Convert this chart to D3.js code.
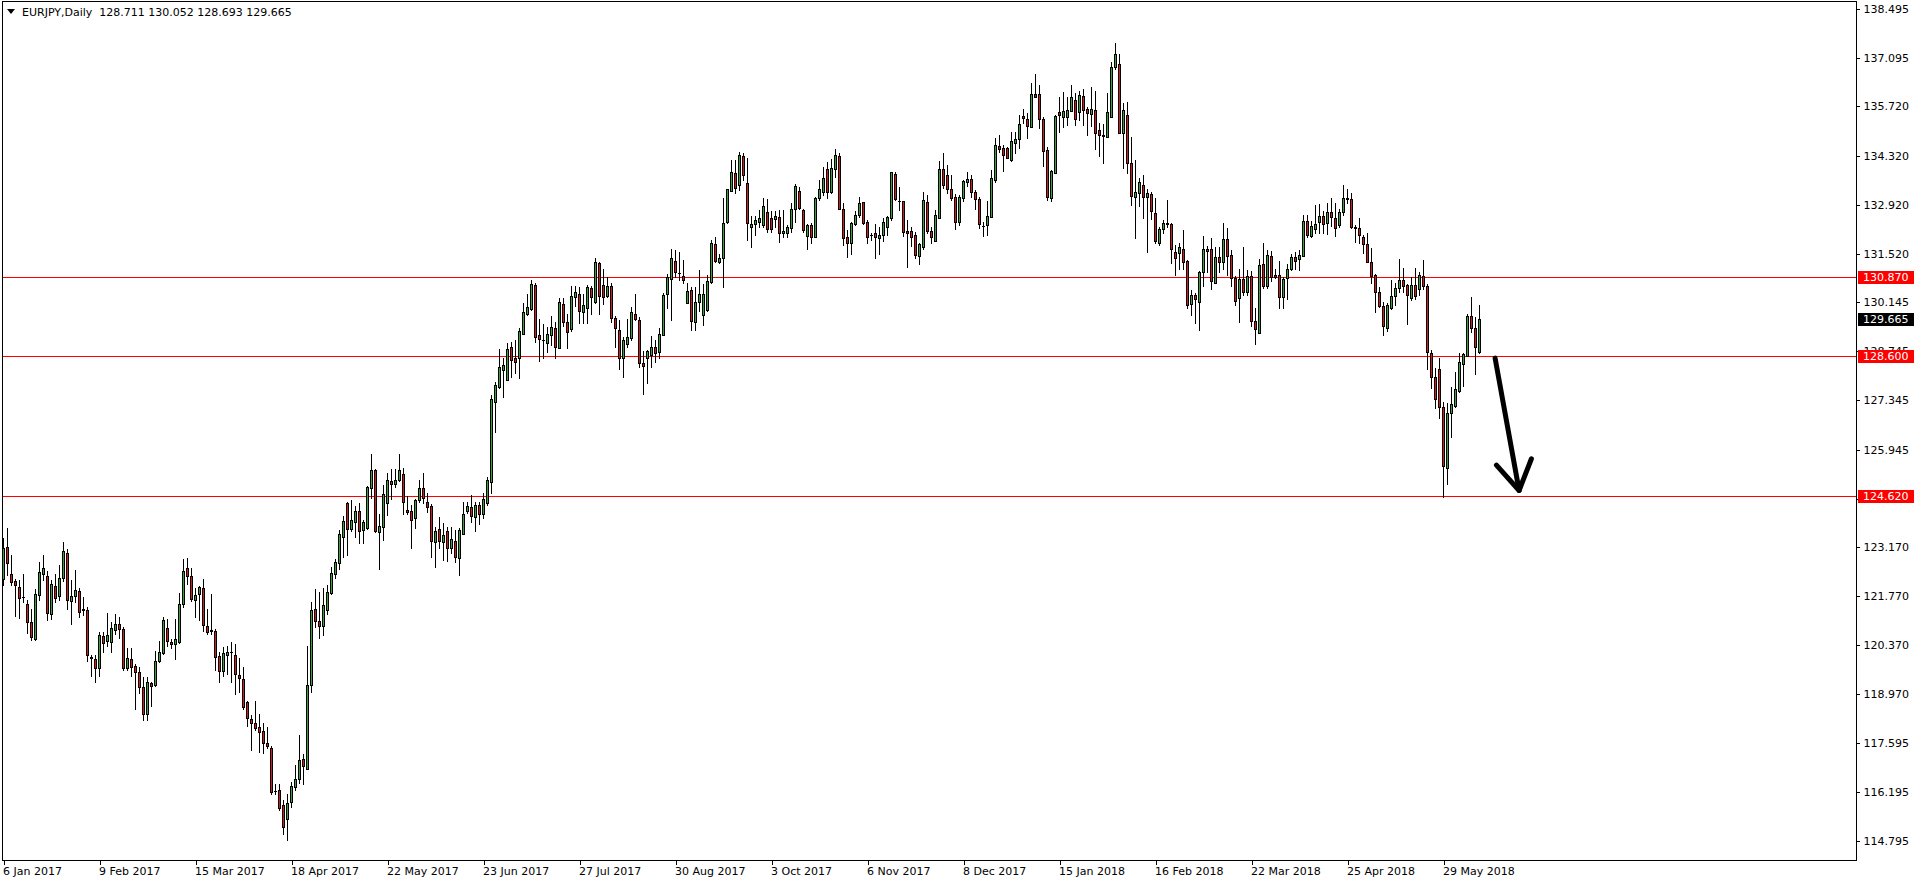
<!DOCTYPE html>
<html>
<head>
<meta charset="utf-8">
<script src="https://cdn.jsdelivr.net/npm/d3@7"></script>
<style>
  html, body { margin: 0; padding: 0; background: #ffffff; }
  svg { display: block; }
  text { font-family: "DejaVu Sans", "Liberation Sans", sans-serif; font-size: 11px; fill: #000; }
</style>
</head>
<body>
<svg id="chart" width="1916" height="884"></svg>
<script>
// ---------------- DATA ----------------
const symbolTitle = "EURJPY,Daily  128.711 130.052 128.693 129.665";

const open = [
122.27,123.18,122.41,122.20,122.04,121.75,121.56,121.02,120.55,121.79,
122.41,122.34,121.27,122.05,121.78,122.29,123.01,121.64,121.78,121.91,
121.39,121.37,120.03,119.97,119.71,120.63,120.49,120.47,120.81,120.97,
120.83,119.71,119.99,119.77,119.62,119.17,118.40,119.29,119.23,119.93,
120.14,120.87,120.45,120.42,120.47,121.56,122.58,122.33,121.67,121.82,
122.01,120.93,120.80,120.77,120.06,119.64,120.08,120.18,120.10,119.52,
119.42,118.75,118.28,118.17,118.04,117.92,117.58,117.43,116.22,116.24,
115.81,115.41,115.91,116.32,116.57,117.12,116.86,119.25,121.39,121.06,
120.92,121.37,121.86,122.40,122.70,123.46,124.41,123.67,123.89,124.19,
123.65,123.72,124.86,125.36,123.60,123.74,124.43,125.05,124.96,125.07,
125.26,124.22,124.19,124.00,124.50,124.84,124.44,124.33,123.32,123.68,
123.30,123.62,123.15,123.34,122.87,123.55,124.20,124.30,124.03,124.38,
124.12,124.41,125.03,127.29,127.73,128.21,127.94,128.88,128.54,128.54,
129.25,129.82,129.94,130.62,129.20,129.07,128.97,129.22,129.42,128.85,
130.09,129.57,129.37,130.30,130.39,129.85,129.99,130.55,130.16,131.25,
130.62,130.33,130.60,129.68,129.35,128.54,128.94,129.11,129.80,129.65,
128.42,128.54,128.64,128.86,128.73,129.22,130.39,130.79,131.31,130.98,
130.89,130.13,130.49,129.58,130.15,129.78,129.92,130.72,131.79,131.29,
131.39,132.42,133.32,133.81,133.48,134.30,133.53,132.29,132.36,132.42,
132.34,132.70,132.53,132.50,132.56,132.10,132.10,132.25,132.79,133.32,
132.77,132.03,132.34,132.01,133.10,133.29,133.95,133.27,133.95,134.31,
132.81,131.99,131.82,132.36,132.64,132.99,132.42,132.07,132.10,131.96,
132.07,132.29,132.53,133.79,133.03,133.02,132.17,132.17,132.05,131.47,
131.72,133.00,132.17,131.89,132.53,133.95,133.76,133.36,133.13,132.42,
133.12,133.57,133.64,133.27,133.07,132.32,132.34,132.58,133.62,134.59,
134.54,134.54,134.19,134.67,134.78,135.45,135.35,135.14,136.06,136.06,
135.35,134.48,133.12,133.83,135.57,135.43,135.41,135.60,135.90,135.57,
136.02,135.64,135.49,135.62,135.05,134.90,134.86,135.43,136.83,136.93,
134.97,135.47,134.12,133.15,133.26,133.48,133.15,133.22,132.67,131.84,
132.22,132.39,132.37,131.56,131.55,131.67,131.31,130.09,130.34,130.14,
130.99,131.67,131.65,130.70,131.44,131.28,131.93,131.49,130.84,130.25,
130.80,130.42,130.89,129.61,129.27,131.22,130.61,131.46,130.92,130.93,
130.28,130.82,131.10,131.42,131.36,131.47,132.45,132.04,132.24,132.43,
132.60,132.39,132.70,132.53,132.34,132.70,133.10,133.08,132.28,132.25,
131.99,131.79,131.28,130.92,130.44,130.03,129.42,129.99,130.33,130.55,
130.77,130.63,130.27,130.63,130.51,130.89,130.60,128.71,128.02,128.24,
127.15,125.43,127.00,127.19,127.62,128.37,128.62,129.75,129.42,128.711
];

const high = [
123.44,123.70,122.94,122.25,122.22,122.41,121.65,121.40,121.96,122.74,
122.94,122.49,122.22,122.41,122.65,123.30,123.12,122.24,122.51,121.99,
121.75,121.46,120.09,120.08,120.75,120.75,121.30,121.04,121.27,121.18,
120.89,120.30,120.30,119.85,119.75,119.47,119.47,119.33,120.20,120.49,
121.18,121.13,120.54,121.11,121.87,122.82,122.87,122.56,121.99,122.05,
122.25,121.40,121.82,120.83,120.18,120.33,120.35,120.47,120.42,120.01,
119.76,118.78,118.38,118.78,118.41,118.16,118.05,117.49,116.41,116.43,
115.97,116.14,116.48,116.95,117.81,117.28,120.35,121.60,121.97,121.89,
122.01,122.08,122.60,122.84,123.65,124.05,124.45,124.52,124.33,124.41,
123.94,124.90,125.82,125.38,124.10,124.93,125.29,125.39,125.39,125.82,
125.41,124.63,124.38,124.55,125.07,125.29,124.70,124.39,123.73,124.03,
123.86,123.75,123.73,123.65,123.70,124.46,124.46,124.65,124.46,124.46,
124.70,125.17,127.50,127.87,128.82,128.54,128.97,129.02,129.08,129.40,
130.11,130.39,130.77,130.68,129.66,129.52,129.44,129.75,129.59,130.25,
130.25,129.82,130.60,130.60,130.58,130.39,130.62,130.60,131.39,131.30,
131.10,130.87,130.70,129.75,129.65,129.16,129.66,130.01,130.39,129.73,
128.76,128.78,129.18,129.06,129.40,130.41,130.96,131.67,131.63,131.58,
131.34,130.70,130.58,130.58,131.07,130.66,130.91,131.91,132.01,131.53,
133.10,133.38,134.19,134.19,134.43,134.40,134.24,132.60,132.60,132.77,
133.10,133.07,132.74,132.74,132.77,132.77,132.34,132.96,133.51,133.43,
132.81,132.37,132.39,133.15,133.62,134.00,134.14,134.22,134.51,134.38,
132.96,132.20,132.43,132.74,133.15,133.00,132.48,132.12,132.36,132.29,
132.53,132.60,133.86,133.84,133.43,133.03,132.48,132.29,132.15,131.82,
133.27,133.19,132.29,132.77,134.17,134.38,134.05,133.76,133.22,133.19,
133.62,133.86,133.78,133.34,133.15,132.43,133.03,133.92,134.81,134.90,
134.62,134.57,135.00,134.98,135.47,135.64,135.52,136.40,136.64,136.33,
135.43,134.55,133.91,135.47,136.00,136.12,136.00,136.33,136.09,136.16,
136.23,135.71,136.28,136.16,135.26,135.21,136.09,136.99,137.52,137.21,
135.83,135.85,134.84,134.19,133.69,133.78,133.38,133.27,133.10,132.29,
132.48,133.05,132.41,131.77,131.82,132.20,131.34,130.49,130.41,131.04,
132.03,131.74,131.96,131.72,131.72,132.41,132.27,131.63,130.89,131.09,
131.72,131.06,131.03,129.97,131.36,131.84,131.63,131.60,131.08,131.31,
130.87,131.22,131.51,131.58,131.63,132.63,132.63,132.45,132.91,132.93,
132.74,132.98,133.10,132.98,132.79,133.48,133.38,133.24,132.34,132.53,
132.06,132.12,131.68,130.96,130.58,130.16,130.11,130.77,130.70,131.36,
131.13,130.66,130.87,131.12,131.01,131.34,130.66,128.78,128.28,128.54,
127.31,127.28,127.72,128.16,128.70,128.70,129.82,130.28,129.73,130.052
];

const low = [
122.08,122.37,122.08,121.21,121.16,121.59,120.73,120.52,120.53,121.65,
122.24,121.10,121.11,121.61,121.65,122.20,121.41,120.99,121.59,121.18,
121.23,119.93,119.50,119.31,119.50,120.18,120.35,120.18,120.70,120.57,
119.66,119.66,119.50,118.55,119.02,118.24,118.24,118.65,119.21,119.90,
120.12,120.35,120.28,119.99,120.44,121.47,122.13,121.64,121.18,121.10,
120.77,120.70,120.70,119.66,119.31,119.50,119.55,119.31,118.99,119.04,
118.55,118.08,117.40,117.95,117.34,117.29,117.45,116.14,116.13,115.67,
115.00,114.83,115.77,116.24,116.45,116.43,116.85,119.04,120.90,120.58,
120.66,121.26,121.83,122.30,122.54,122.89,122.94,123.62,123.46,123.29,
123.29,123.67,124.57,123.60,122.54,123.37,124.08,124.53,124.88,125.05,
124.12,124.12,123.15,123.72,124.46,124.41,124.17,122.89,122.61,123.15,
122.80,122.78,123.00,122.75,122.37,123.53,124.15,123.89,123.62,123.82,
124.00,124.36,124.71,126.45,127.71,127.43,127.92,128.02,128.14,127.99,
129.23,129.79,129.92,129.02,128.47,128.56,128.72,128.92,128.56,128.83,
129.47,128.85,129.33,130.03,129.54,129.56,129.54,129.82,130.11,129.82,
130.08,130.30,129.59,128.87,128.23,128.02,128.87,129.06,129.63,128.30,
127.54,127.83,128.30,128.45,128.54,129.20,129.97,129.63,130.87,130.77,
130.70,130.11,129.35,129.35,129.90,129.49,129.90,130.70,131.30,131.25,
130.58,132.39,133.32,133.24,133.34,133.62,131.91,131.72,132.05,132.29,
132.29,132.15,132.13,132.29,131.85,131.99,132.01,132.15,132.43,132.80,
132.15,131.65,131.84,131.99,133.05,133.19,133.10,133.24,133.70,132.80,
131.77,131.44,131.53,132.34,132.56,132.37,131.82,131.91,131.39,131.51,
131.88,132.05,132.48,133.05,132.77,132.03,131.15,131.74,131.39,131.22,
131.67,132.10,131.82,131.89,132.53,133.41,133.26,133.05,132.23,132.34,
133.03,133.45,133.15,132.79,132.27,132.03,132.05,132.56,133.57,134.43,
133.89,134.24,134.17,134.40,134.54,135.24,134.81,135.12,135.98,135.11,
134.03,133.05,133.03,133.81,134.99,135.14,135.19,135.59,135.19,135.33,
135.19,134.90,135.16,134.52,134.31,134.12,134.84,135.41,136.80,134.95,
133.97,133.81,132.91,131.98,132.89,132.53,131.58,132.51,131.82,131.77,
132.12,132.29,131.25,130.93,131.08,131.08,129.99,129.78,129.56,129.35,
130.60,131.01,130.51,130.68,131.01,131.08,130.91,130.61,130.06,129.59,
130.35,130.35,129.46,128.94,129.27,130.54,130.56,130.75,130.82,129.97,
129.99,130.22,131.06,131.09,131.06,131.46,132.01,132.01,132.10,132.10,
132.10,132.08,132.31,132.04,132.29,132.63,132.96,132.26,131.86,131.84,
131.55,131.28,130.70,129.87,130.01,129.22,129.32,129.94,130.06,130.42,
130.42,129.52,130.20,130.23,130.35,130.51,128.23,127.70,127.14,126.85,
124.60,124.96,126.31,127.17,127.59,127.75,128.61,129.30,128.11,128.693
];

const close = [
123.14,122.70,122.16,122.10,121.72,121.74,121.02,120.61,121.84,122.45,
122.58,121.29,122.13,121.72,122.30,123.07,121.67,121.76,121.94,121.32,
121.38,120.10,120.02,119.73,120.65,120.44,120.66,120.87,120.99,120.84,
119.73,120.02,119.76,119.62,119.17,118.40,119.31,119.21,119.93,120.19,
121.08,120.50,120.40,120.56,121.56,122.48,122.34,121.68,121.81,122.04,
120.96,120.75,120.79,120.04,119.65,120.16,120.19,120.19,119.54,119.44,
118.62,118.31,118.17,118.01,117.91,117.60,117.50,116.20,116.21,115.74,
115.18,115.89,116.36,116.57,117.11,116.93,119.25,121.37,121.07,120.92,
121.51,121.90,122.44,122.73,123.53,123.90,123.67,123.95,124.19,123.63,
123.87,124.87,125.36,123.63,123.76,124.67,125.07,124.97,125.07,125.36,
124.46,124.17,123.93,124.52,124.84,124.57,124.31,123.35,123.62,123.35,
123.51,123.15,123.39,122.89,123.65,124.10,124.33,124.06,124.38,124.12,
124.55,125.07,127.38,127.78,128.30,128.35,128.82,128.51,128.45,129.31,
129.85,130.00,130.66,129.14,129.10,129.06,129.25,129.45,128.87,130.14,
129.59,129.30,130.32,130.44,129.90,130.05,130.58,130.28,131.29,130.33,
130.28,130.60,129.68,129.42,128.54,129.06,129.16,129.85,129.66,128.42,
128.33,128.76,128.86,128.71,129.25,130.35,130.87,131.39,130.99,130.97,
130.77,130.46,129.61,130.16,130.39,130.37,130.74,131.82,131.32,131.39,
132.39,133.37,133.84,133.41,134.33,133.78,132.39,132.36,132.48,132.53,
132.88,132.24,132.23,132.60,132.10,132.17,132.29,132.79,133.45,132.83,
132.20,132.34,132.01,133.10,133.38,133.67,133.29,133.97,134.35,132.81,
131.96,131.82,132.39,132.64,132.96,132.39,131.99,132.06,132.01,132.07,
132.42,132.56,133.84,133.07,133.02,132.15,132.10,131.99,131.50,131.79,
133.05,132.18,132.01,132.63,133.95,133.48,133.36,133.12,132.43,133.13,
133.59,133.64,133.29,133.07,132.36,132.31,132.60,133.67,134.62,134.52,
134.35,134.26,134.73,134.79,135.21,135.40,135.17,136.06,136.00,135.35,
134.46,133.13,133.88,135.45,135.47,135.60,135.62,136.00,135.36,136.04,
135.62,135.52,135.64,134.97,134.92,134.89,135.55,136.83,137.21,134.97,
135.62,134.10,133.18,133.27,133.56,133.15,133.24,132.75,131.89,132.24,
132.41,132.38,131.65,131.39,131.72,131.28,130.06,130.34,130.22,130.99,
131.65,131.60,130.75,131.44,131.28,131.93,131.47,130.84,130.18,130.80,
130.42,130.89,129.60,129.37,131.20,130.61,131.49,130.87,130.85,130.28,
130.80,131.10,131.42,131.32,131.50,132.45,132.06,132.31,132.36,132.60,
132.36,132.70,132.56,132.25,132.70,133.10,133.07,132.29,132.27,132.07,
131.80,131.30,130.89,130.44,130.04,129.47,130.06,130.33,130.56,130.77,
130.61,130.36,130.63,130.33,130.93,130.61,128.73,128.02,127.38,127.16,
125.48,127.00,127.24,127.67,128.43,128.66,129.75,129.42,128.87,129.665
];

// trading calendar (weekdays, market closed on Christmas Day and New Year's Day)
const firstDay = new Date(2017, 0, 6);
const holidays = ["2017-12-25", "2018-01-01"];

const xTickLabels = ["6 Jan 2017","9 Feb 2017","15 Mar 2017","18 Apr 2017","22 May 2017","23 Jun 2017",
  "27 Jul 2017","30 Aug 2017","3 Oct 2017","6 Nov 2017","8 Dec 2017","15 Jan 2018","16 Feb 2018",
  "22 Mar 2018","25 Apr 2018","29 May 2018"];
const barsPerXTick = 24;

const yTickLabels = ["138.495","137.095","135.720","134.320","132.920","131.520","130.145","128.745",
  "127.345","125.945","124.545","123.170","121.770","120.370","118.970","117.595","116.195","114.795"];

const levelLines = [130.870, 128.600, 124.620];
const lastPrice = 129.665;

// annotation arrow (bar index, price)
const arrowFrom = {i: 372.9, p: 128.55};
const arrowTo   = {i: 378.9, p: 124.78};

// ---------------- BUILD ----------------
const fmt = d3.timeFormat("%Y-%m-%d");
const dates = [];
{
  let d = new Date(firstDay);
  while (dates.length < open.length) {
    const wd = d.getDay();
    if (wd !== 0 && wd !== 6 && !holidays.includes(fmt(d))) dates.push(new Date(d));
    d.setDate(d.getDate() + 1);
  }
}
const bars = open.map((o, i) => ({i, date: dates[i], o, h: high[i], l: low[i], c: close[i]}));

const W = 1916, H = 884;
const plot = {left: 2, top: 1, right: 1856, bottom: 860};

const svg = d3.select("#chart");

const x = d3.scaleLinear().domain([0, bars.length - 1]).range([3.5, 3.5 + 4 * (bars.length - 1)]);
const y = d3.scaleLinear().domain([114.795, 138.495]).range([841, 9]);

const bullColor = "#3aa23a";
const bearColor = "#d21c1c";

svg.append("defs").append("clipPath").attr("id", "plotClip")
  .append("rect").attr("x", plot.left + 1).attr("y", plot.top + 1)
  .attr("width", plot.right - plot.left - 1).attr("height", plot.bottom - plot.top - 1);

const g = svg.append("g").attr("clip-path", "url(#plotClip)");

// level lines
g.selectAll("line.level").data(levelLines).join("line")
  .attr("class", "level")
  .attr("x1", plot.left).attr("x2", plot.right)
  .attr("y1", d => Math.round(y(d)) + 0.5).attr("y2", d => Math.round(y(d)) + 0.5)
  .attr("stroke", "#ff0000").attr("stroke-width", 1).attr("shape-rendering", "crispEdges");

// candles
const cg = g.append("g");
const candle = cg.selectAll("g.candle").data(bars).join("g").attr("class", "candle");
candle.append("line")
  .attr("x1", d => x(d.i)).attr("x2", d => x(d.i))
  .attr("y1", d => Math.round(y(d.h))).attr("y2", d => Math.round(y(d.l)) + 1)
  .attr("stroke", "#000").attr("stroke-width", 1).attr("shape-rendering", "crispEdges");
candle.each(function(d) {
  const sel = d3.select(this);
  const top = Math.round(y(Math.max(d.o, d.c)));
  const bot = Math.round(y(Math.min(d.o, d.c)));
  if (bot - top < 1) {
    sel.append("line")
      .attr("x1", x(d.i) - 1.5).attr("x2", x(d.i) + 1.5)
      .attr("y1", top + 0.5).attr("y2", top + 0.5)
      .attr("stroke", "#000").attr("stroke-width", 1).attr("shape-rendering", "crispEdges");
  } else {
    sel.append("rect")
      .attr("x", x(d.i) - 1).attr("width", 2)
      .attr("y", top + 0.5).attr("height", bot - top)
      .attr("fill", d.c >= d.o ? bullColor : bearColor)
      .attr("stroke", "#000").attr("stroke-width", 1);
  }
});

// arrow annotation
const ax1 = x(arrowFrom.i), ay1 = y(arrowFrom.p);
const ax2 = x(arrowTo.i), ay2 = y(arrowTo.p);
const ang = Math.atan2(ay2 - ay1, ax2 - ax1);
const headLen = 34, headAng = 0.55;
const arrowG = g.append("g").attr("fill", "none").attr("stroke", "#000")
  .attr("stroke-width", 5).attr("stroke-linecap", "round").attr("stroke-linejoin", "round");
arrowG.append("line").attr("x1", ax1).attr("y1", ay1).attr("x2", ax2).attr("y2", ay2);
arrowG.append("polyline").attr("points", [
  [ax2 - headLen * Math.cos(ang - headAng), ay2 - headLen * Math.sin(ang - headAng)],
  [ax2, ay2],
  [ax2 - headLen * Math.cos(ang + headAng), ay2 - headLen * Math.sin(ang + headAng)]
].map(p => p.join(",")).join(" "));

// frame
svg.append("rect")
  .attr("x", plot.left + 0.5).attr("y", plot.top + 0.5)
  .attr("width", plot.right - plot.left).attr("height", plot.bottom - plot.top)
  .attr("fill", "none").attr("stroke", "#000").attr("stroke-width", 1)
  .attr("shape-rendering", "crispEdges");

// right price axis
const yAxis = d3.axisRight(y)
  .tickValues(yTickLabels.map(Number))
  .tickFormat((d, i) => yTickLabels[i])
  .tickSize(3).tickPadding(4);
const yAxisG = svg.append("g")
  .attr("transform", `translate(${plot.right + 0.5},0)`)
  .call(yAxis);
yAxisG.select(".domain").remove();
yAxisG.selectAll(".tick line").attr("stroke", "#000").attr("shape-rendering", "crispEdges");
yAxisG.selectAll(".tick text").attr("fill", "#000")
  .style("font-family", '"DejaVu Sans", sans-serif').style("font-size", "11px");

// bottom time axis
const xTickIdx = xTickLabels.map((_, k) => k * barsPerXTick);
const xAxis = d3.axisBottom(x)
  .tickValues(xTickIdx)
  .tickFormat((d, i) => xTickLabels[i])
  .tickSize(4).tickPadding(3);
const xAxisG = svg.append("g")
  .attr("transform", `translate(0,${plot.bottom + 0.5})`)
  .call(xAxis);
xAxisG.select(".domain").remove();
xAxisG.selectAll(".tick line").attr("stroke", "#000").attr("shape-rendering", "crispEdges");
xAxisG.selectAll(".tick text").attr("fill", "#000")
  .attr("text-anchor", "start").attr("x", -1)
  .style("font-family", '"DejaVu Sans", sans-serif').style("font-size", "11px");

// price labels on axis
const labelData = levelLines.map(v => ({v, bg: "#ff0000"})).concat([{v: lastPrice, bg: "#000000"}]);
const lab = svg.append("g").selectAll("g").data(labelData).join("g")
  .attr("transform", d => `translate(0,${Math.round(y(d.v))})`);
lab.append("rect")
  .attr("x", plot.right + 2).attr("y", -6).attr("width", 56).attr("height", 13)
  .attr("fill", d => d.bg).attr("shape-rendering", "crispEdges");
lab.append("text")
  .attr("x", plot.right + 7).attr("y", 0.5).attr("dy", "0.35em")
  .attr("fill", "#fff").style("fill", "#fff")
  .text(d => d.v.toFixed(3));

// title
const tg = svg.append("g");
tg.append("path").attr("d", "M7,9 L15,9 L11,14 Z").attr("fill", "#000");
tg.append("text").attr("x", 22).attr("y", 16)
  .style("white-space", "pre")
  .text(symbolTitle);
</script>
</body>
</html>
